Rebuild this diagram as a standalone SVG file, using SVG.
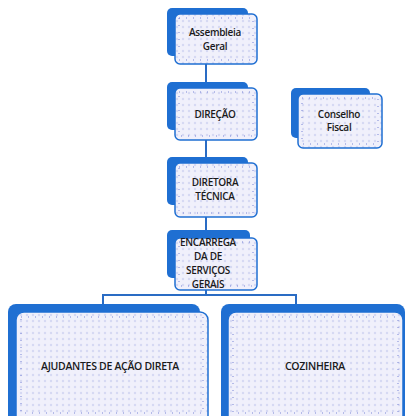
<svg xmlns="http://www.w3.org/2000/svg" width="407" height="416" viewBox="0 0 407 416">
<defs>
<pattern id="dots" width="6" height="6" patternUnits="userSpaceOnUse">
<rect width="6" height="6" fill="#f0f0fb"/>
<circle cx="3" cy="3" r="1.2" fill="#d6d9f3"/>
</pattern>
<style>
.back{fill:#1f6fd2}
.front{fill:url(#dots);stroke:#1f6fd2;stroke-width:1.5}
.inner{fill:none;stroke:#7b86d6;stroke-width:1;stroke-dasharray:1 6}
.lbl{font-family:"Open Sans","Liberation Sans",sans-serif;font-size:10px;font-weight:600;fill:#1a1a1a;text-anchor:middle;letter-spacing:-0.3px}
.big{font-size:10.5px}
.conn{fill:none;stroke:#2a6cc4;stroke-width:2}
</style>
</defs>
<rect width="407" height="416" fill="#ffffff"/>
<g id="connectors">
<line class="conn" x1="206" y1="64" x2="206" y2="84"/>
<line class="conn" x1="206" y1="140" x2="206" y2="159"/>
<line class="conn" x1="206" y1="217" x2="206" y2="232"/>
<path class="conn" d="M206 290 V295 M103 304 V295 H296 V304"/>
</g>
<g id="assembleia">
<rect class="back" x="167" y="8" width="81" height="48" rx="5"/>
<rect class="front" x="175" y="14" width="82" height="50" rx="5"/>
<rect class="inner" x="179" y="18" width="74" height="42"/>
<text class="lbl" x="215" y="36">Assembleia</text>
<text class="lbl" x="215" y="50">Geral</text>
</g>
<g id="direcao">
<rect class="back" x="167" y="82" width="81" height="48" rx="5"/>
<rect class="front" x="175" y="88" width="82" height="52" rx="5"/>
<rect class="inner" x="179" y="92" width="74" height="44"/>
<text class="lbl" x="215" y="118">DIREÇÃO</text>
</g>
<g id="conselho">
<rect class="back" x="291" y="88" width="79" height="50" rx="5"/>
<rect class="front" x="298" y="94" width="84" height="54" rx="5"/>
<rect class="inner" x="302" y="98" width="76" height="46"/>
<text class="lbl" x="339" y="118">Conselho</text>
<text class="lbl" x="339" y="131">Fiscal</text>
</g>
<g id="diretora">
<rect class="back" x="167" y="157" width="81" height="48" rx="5"/>
<rect class="front" x="175" y="163" width="82" height="54" rx="5"/>
<rect class="inner" x="179" y="167" width="74" height="46"/>
<text class="lbl" x="215" y="186">DIRETORA</text>
<text class="lbl" x="215" y="200">TÉCNICA</text>
</g>
<g id="encarregada">
<rect class="back" x="167" y="230" width="83" height="48" rx="5"/>
<rect class="front" x="175" y="238" width="82" height="52" rx="5"/>
<rect class="inner" x="179" y="242" width="74" height="44"/>
<text class="lbl" x="208" y="246">ENCARREGA</text>
<text class="lbl" x="208" y="260">DA DE</text>
<text class="lbl" x="208" y="274">SERVIÇOS</text>
<text class="lbl" x="208" y="288">GERAIS</text>
</g>
<g id="ajudantes">
<rect class="back" x="8" y="304" width="192" height="120" rx="8"/>
<rect class="front" x="16" y="312" width="192" height="112" rx="8"/>
<rect class="inner" x="21" y="317" width="182" height="96"/>
<text class="lbl big" x="110" y="370">AJUDANTES DE AÇÃO DIRETA</text>
</g>
<g id="cozinheira">
<rect class="back" x="221" y="304" width="184" height="120" rx="8"/>
<rect class="front" x="228" y="312" width="175" height="112" rx="8"/>
<rect class="inner" x="233" y="317" width="165" height="96"/>
<text class="lbl big" x="315" y="370">COZINHEIRA</text>
</g>
</svg>
